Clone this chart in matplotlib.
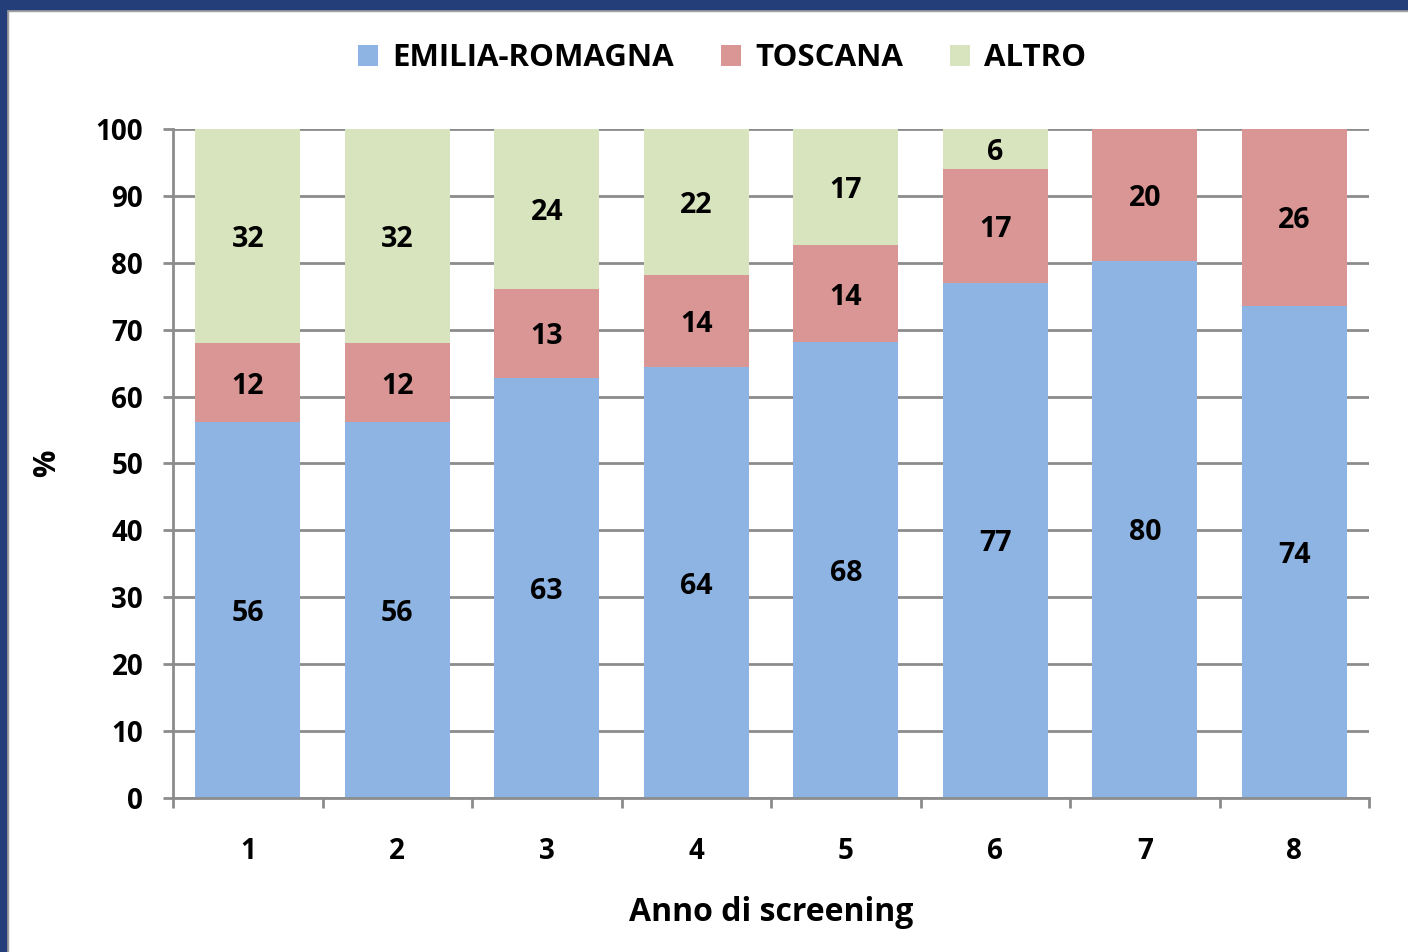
import numpy as np
import matplotlib.pyplot as plt
from matplotlib.patches import Rectangle

plt.rcParams['font.family'] = ['Open Sans', 'DejaVu Sans']
plt.rcParams['font.weight'] = 'bold'

# ── dati ──────────────────────────────────────────────────────────────
anni   = ["1", "2", "3", "4", "5", "6", "7", "8"]
emilia = [56.2, 56.2, 62.8, 64.4, 68.2, 77.0, 80.3, 73.6]
toscana = [11.8, 11.8, 13.3, 13.8, 14.4, 17.0, 19.7, 26.4]
altro  = [32.0, 32.0, 23.9, 21.8, 17.4, 6.0, 0.0, 0.0]

serie  = ["EMILIA-ROMAGNA", "TOSCANA", "ALTRO"]
colori = ["#8EB4E3", "#D99694", "#D7E4BD"]

fig = plt.figure(figsize=(14.08, 9.52), dpi=100)
ax = fig.add_axes([0.1229, 0.1618, 0.8494, 0.7027])

x = np.arange(len(anni))
bottom = np.zeros(len(anni))
for nome, vals, col in zip(serie, [emilia, toscana, altro], colori):
    vals = np.array(vals)
    bars = ax.bar(x, vals, bottom=bottom, width=0.70, color=col, label=nome,
                  zorder=3)
    for xi, b, v in zip(x, bottom, vals):
        if v > 0:
            ax.text(xi, b + v / 2, f"{v:.0f}", ha="center", va="center_baseline",
                    fontsize=20.5, fontweight="bold", zorder=4)
    bottom += vals

ax.set_xlim(-0.5, len(anni) - 0.5)
ax.set_ylim(0, 100)
ax.set_yticks(np.arange(0, 101, 10))
ax.grid(axis="y", color="#8C8C8C", lw=2, zorder=0)
ax.set_xticks(x)
ax.set_xticklabels(anni)
ax.set_xticks(np.arange(-0.5, len(anni)), minor=True)
ax.tick_params(axis="x", which="major", length=0, pad=28, labelsize=20)
ax.tick_params(axis="x", which="minor", length=7.5, width=2, color="#8C8C8C",
               direction="out")
ax.tick_params(axis="y", length=7.5, width=2, color="#8C8C8C", pad=14,
               labelsize=20)
for s in ["top", "right"]:
    ax.spines[s].set_visible(False)
for s in ["left", "bottom"]:
    ax.spines[s].set_color("#8C8C8C")
    ax.spines[s].set_linewidth(2)
    ax.spines[s].set_zorder(5)

ax.set_ylabel("%", fontsize=22, fontweight="bold", labelpad=24)
ax.set_xlabel("Anno di screening", fontsize=23, fontweight="bold", labelpad=22)

fig.legend(loc="center", bbox_to_anchor=(0.513, 0.939), ncol=3, frameon=False,
           fontsize=22.5, handlelength=0.65, handleheight=0.65, columnspacing=1.5,
           handletextpad=0.45)

# cornice
fig.patches.append(Rectangle((0, 1 - 9 / 952), 1, 9 / 952, transform=fig.transFigure,
                             color="#233E78", zorder=10))
fig.patches.append(Rectangle((0, 0), 6 / 1408, 1, transform=fig.transFigure,
                             color="#233E78", zorder=10))
fig.patches.append(Rectangle((6 / 1408, 1 - 11 / 952), 1, 2 / 952,
                             transform=fig.transFigure, color="#A0A0A0", zorder=9))
fig.patches.append(Rectangle((6 / 1408, 0), 2 / 1408, 1, transform=fig.transFigure,
                             color="#A0A0A0", zorder=9))

fig.savefig("out.png", dpi=100)
